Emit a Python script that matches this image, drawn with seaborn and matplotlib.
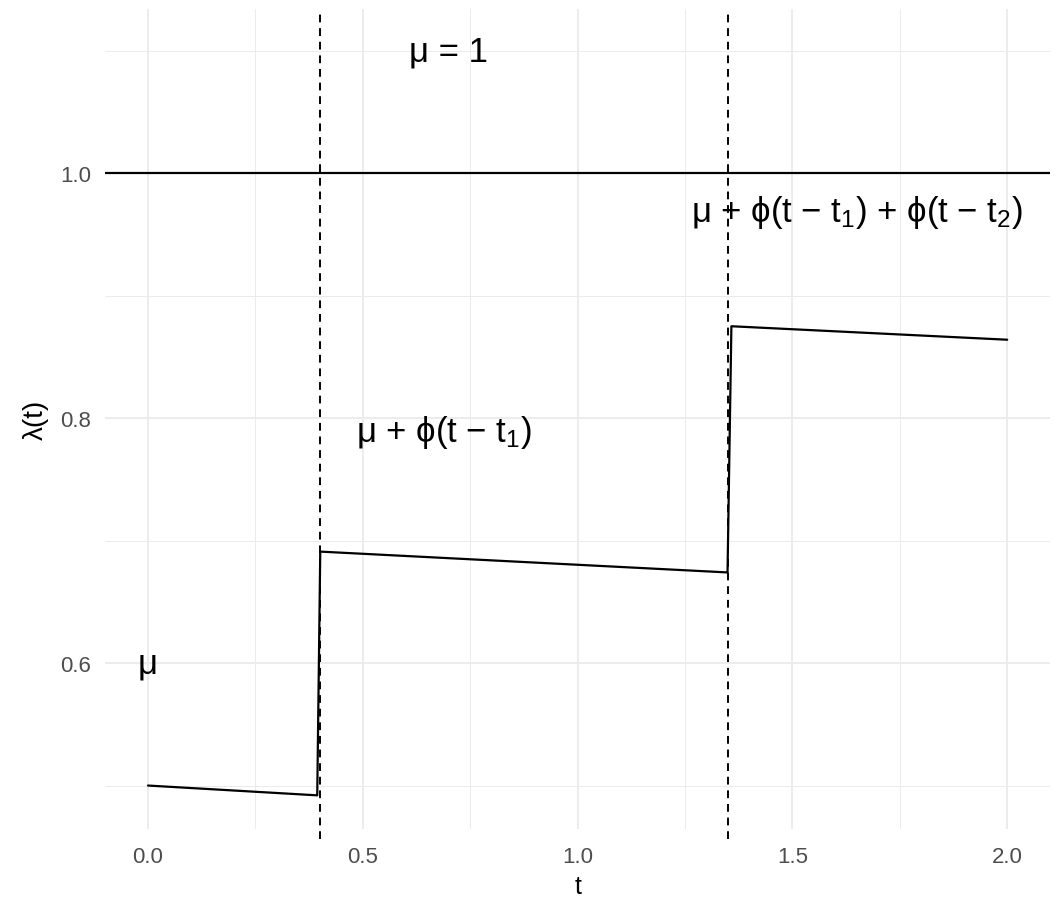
import matplotlib
matplotlib.use("Agg")
import matplotlib.pyplot as plt
import seaborn as sns
import pandas as pd
from matplotlib.ticker import FixedLocator

# data
t_vals = [0.0, 0.394, 0.401, 1.349, 1.358, 2.0]
lam_vals = [0.500, 0.492, 0.691, 0.674, 0.875, 0.864]
event_times = [0.4, 1.35]
mu_line = 1.0
x_ticks = [0.0, 0.5, 1.0, 1.5, 2.0]
x_tick_labels = ["0.0", "0.5", "1.0", "1.5", "2.0"]
y_ticks = [0.6, 0.8, 1.0]
y_tick_labels = ["0.6", "0.8", "1.0"]
ann_texts = ["μ = 1", "μ + ϕ(t − t$_1$)", "μ + ϕ(t − t$_1$) + ϕ(t − t$_2$)", "μ"]
ann_x = [0.70, 0.69, 1.65, 0.0]
ann_y = [1.10, 0.789, 0.969, 0.60]

sns.set_theme(style="white")
plt.rcParams['font.family'] = ['Liberation Sans', 'DejaVu Sans']
plt.rcParams['mathtext.fontset'] = 'custom'
plt.rcParams['mathtext.rm'] = 'Liberation Sans'
plt.rcParams['mathtext.it'] = 'Liberation Sans'
plt.rcParams['mathtext.bf'] = 'Liberation Sans:bold'

fig = plt.figure(figsize=(10.64, 9.2), dpi=100)
ax = fig.add_axes([0.0987, 0.0978, 0.8883, 0.8913])

df = pd.DataFrame({"t": t_vals, "lam": lam_vals})
sns.lineplot(data=df, x="t", y="lam", ax=ax, color="black", linewidth=1.6,
             sort=False, estimator=None, zorder=3)

for et in event_times:
    ax.axvline(et, color="black", linestyle=(0, (4, 3)), linewidth=1.4, zorder=2,
               ymin=-0.012, ymax=1.0, clip_on=False)
ax.axhline(mu_line, color="black", linewidth=1.6, zorder=2)

for txt, xx, yy in zip(ann_texts, ann_x, ann_y):
    ax.text(xx, yy, txt, ha="center", va="center", fontsize=25, color="black",
            family=['Liberation Sans', 'DejaVu Sans'])

ax.set_xlim(-0.1, 2.1)
ax.set_ylim(0.4645, 1.134)
ax.xaxis.set_major_locator(FixedLocator(x_ticks))
ax.set_xticklabels(x_tick_labels)
ax.yaxis.set_major_locator(FixedLocator(y_ticks))
ax.set_yticklabels(y_tick_labels)
ax.xaxis.set_minor_locator(FixedLocator([0.25, 0.75, 1.25, 1.75]))
ax.yaxis.set_minor_locator(FixedLocator([0.5, 0.7, 0.9, 1.1]))

ax.grid(which="major", color="#EBEBEB", linewidth=1.3, zorder=0)
ax.grid(which="minor", color="#EBEBEB", linewidth=0.7, zorder=0)
ax.set_axisbelow(True)
for s in ax.spines.values():
    s.set_visible(False)
ax.tick_params(axis="both", which="both", length=0, labelsize=16, labelcolor="#4D4D4D")
ax.tick_params(axis="x", pad=12)
ax.tick_params(axis="y", pad=10)

ax.set_xlabel("t", fontsize=18, color="black", labelpad=5)
ax.set_ylabel("λ(t)", fontsize=20, color="black", labelpad=8)

fig.savefig("out.png", dpi=100, facecolor="white")
